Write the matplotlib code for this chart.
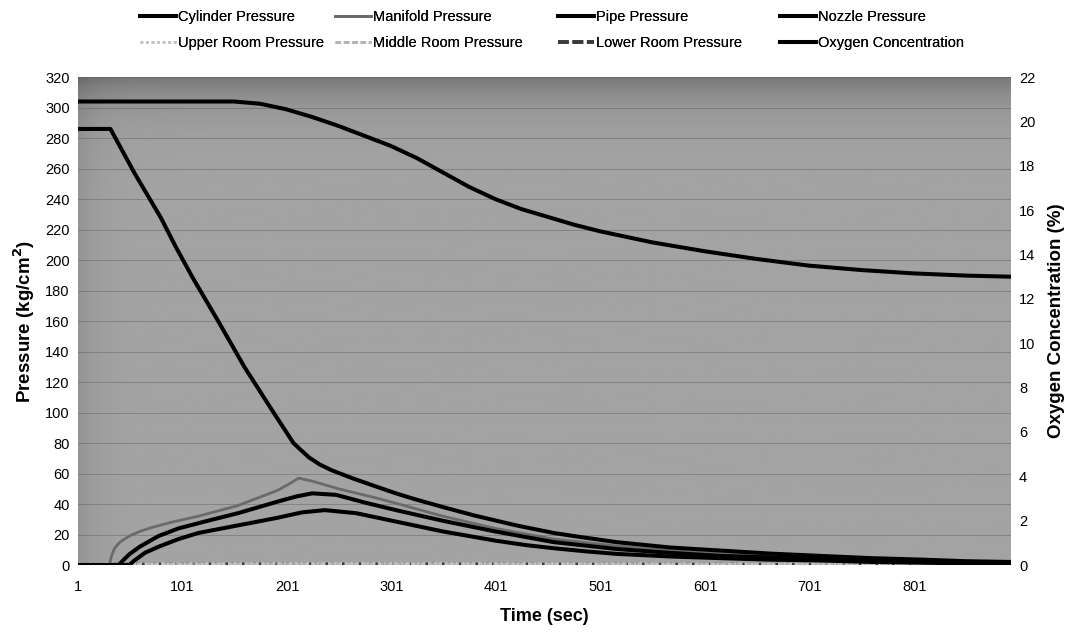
import numpy as np
import matplotlib
matplotlib.use('Agg')
import matplotlib.pyplot as plt
from matplotlib.lines import Line2D

plt.rcParams['font.family'] = ['Liberation Sans', 'DejaVu Sans']

# ---------------- data ----------------
time_ticks = [1, 101, 201, 301, 401, 501, 601, 701, 801]
t_end = 893

cyl_t = [1, 32, 55, 80, 95, 111, 135, 160, 188, 207, 214, 222, 232, 244, 265, 286, 305, 324, 350, 380, 420, 456, 475, 516, 567, 615, 663, 710, 760, 810, 850, 893]
cyl_p = [286, 286, 257, 228, 208, 188, 160, 130, 100, 80, 75.5, 70.5, 66, 62, 56.5, 51.5, 47, 43, 38, 32.5, 26, 21, 19, 15, 11.5, 9.5, 7.5, 6, 4.5, 3.5, 2.5, 2]

man_t = [1, 31, 33, 36, 41, 50, 60, 71, 90, 116, 154, 192, 205, 212, 225, 250, 286, 305, 350, 400, 456, 516, 567, 615, 663, 710, 760, 810, 850, 893]
man_p = [0, 0, 6, 11, 15, 19, 22, 24.5, 28, 32, 39, 49, 54, 57, 55, 50, 44, 40.5, 32, 24, 17, 12.5, 9.5, 7.5, 5.5, 4.5, 3.5, 2.5, 1.5, 1]

pipe_t = [1, 40, 44, 50, 60, 78, 97, 125, 154, 192, 210, 225, 248, 275, 305, 350, 400, 456, 516, 567, 615, 663, 710, 760, 810, 850, 893]
pipe_p = [0, 0, 3, 7, 12, 19, 24, 29, 34, 41.6, 45, 47, 46, 41, 36, 29, 22, 15, 10.5, 8, 6, 5, 4, 3, 2, 1.5, 1]

noz_t = [1, 50, 55, 65, 78, 97, 116, 154, 192, 215, 237, 267, 305, 350, 400, 430, 456, 486, 516, 567, 615, 663, 710, 760, 810, 850, 893]
noz_p = [0, 0, 3, 8, 12, 17, 21, 26, 31, 34.5, 36, 34, 28.5, 22, 16, 13, 11, 9, 7.3, 5.6, 4.5, 3.5, 3, 2, 1.5, 1, 0.8]

room_t = [1, 100, 200, 300, 400, 500, 600, 700, 800, 893]
upper_p = [0.6, 0.8, 1.0, 1.0, 0.9, 0.8, 0.7, 0.6, 0.6, 0.6]
middle_p = [0.4, 0.6, 0.8, 0.8, 0.7, 0.6, 0.5, 0.4, 0.4, 0.4]
lower_p = [0.2, 0.4, 0.5, 0.5, 0.4, 0.3, 0.3, 0.2, 0.2, 0.2]

oxy_t = [1, 150, 175, 200, 225, 250, 275, 300, 325, 350, 375, 400, 425, 450, 475, 500, 550, 600, 650, 700, 750, 800, 850, 893]
oxy_c = [20.9, 20.9, 20.8, 20.55, 20.2, 19.8, 19.35, 18.9, 18.35, 17.7, 17.05, 16.5, 16.05, 15.7, 15.35, 15.05, 14.55, 14.15, 13.8, 13.5, 13.3, 13.15, 13.05, 13.0]

labels = ['Cylinder Pressure', 'Manifold Pressure', 'Pipe Pressure', 'Nozzle Pressure',
          'Upper Room Pressure', 'Middle Room Pressure', 'Lower Room Pressure', 'Oxygen Concentration']

# ---------------- figure ----------------
fig = plt.figure(figsize=(10.72, 6.32), dpi=100)
ax = fig.add_axes([0.0728, 0.106, 0.870, 0.772])

# halftone-like grey background, darker along the top and left edges
gy = np.linspace(0, 1, 200)[:, None]
gx = np.linspace(0, 1, 400)[None, :]
shade = 0.64 - 0.17 * np.exp(-gy / 0.05) - 0.06 * np.exp(-gx / 0.02)
ax.imshow(shade, cmap='gray', vmin=0, vmax=1, aspect='auto',
          extent=[0, 1, 0, 1], origin='upper', transform=ax.transAxes, zorder=0)

ax.set_xlim(1, t_end)
ax.set_ylim(0, 320)
ax.set_yticks(np.arange(0, 321, 20))
ax.set_xticks(time_ticks)
ax.grid(axis='y', color='#5a5a5a', linewidth=0.6, alpha=0.5, zorder=1)

styles = {
    'cyl': dict(color='black', lw=2.9),
    'man': dict(color='#6a6a6a', lw=2.0),
    'pipe': dict(color='black', lw=2.9),
    'noz': dict(color='black', lw=2.9),
    'upper': dict(color='#c4c4c4', lw=2.0, ls=(0, (1, 1))),
    'middle': dict(color='#b4b4b4', lw=2.0, ls=(0, (2, 1))),
    'lower': dict(color='#3a3a3a', lw=2.6, ls=(0, (3, 1))),
    'oxy': dict(color='black', lw=2.9),
}

ax.plot(room_t, lower_p, zorder=3, **styles['lower'])
ax.plot(room_t, middle_p, zorder=3, **styles['middle'])
ax.plot(room_t, upper_p, zorder=3, **styles['upper'])
ax.plot(man_t, man_p, zorder=4, **styles['man'])
ax.plot(noz_t, noz_p, zorder=4, **styles['noz'])
ax.plot(pipe_t, pipe_p, zorder=4, **styles['pipe'])
ax.plot(cyl_t, cyl_p, zorder=5, **styles['cyl'])

ax2 = ax.twinx()
ax2.set_ylim(0, 22)
ax2.set_yticks(np.arange(0, 23, 2))
ax2.plot(oxy_t, oxy_c, zorder=5, **styles['oxy'])

for a in (ax, ax2):
    for s in a.spines.values():
        s.set_visible(False)
    a.tick_params(length=0, labelsize=10.5, pad=6)
ax.tick_params(axis='x', pad=11)

ax.set_xlabel('Time (sec)', fontsize=13, fontweight='bold', labelpad=10)
ax.set_ylabel('Pressure (kg/cm$^\\mathbf{2}$)', fontsize=13.5, fontweight='bold', labelpad=6)
ax2.set_ylabel('Oxygen Concentration (%)', fontsize=13.5, fontweight='bold', labelpad=9)

# legend: four columns placed individually
keys = ['cyl', 'man', 'pipe', 'noz', 'upper', 'middle', 'lower', 'oxy']
handles = [Line2D([], [], **styles[k]) for k in keys]
col_x = [140, 335, 558, 780]
for c in range(4):
    leg = fig.legend([handles[c], handles[c + 4]], [labels[c], labels[c + 4]],
                     loc='upper left', bbox_to_anchor=(col_x[c] / 1072, 1 - 10 / 632),
                     frameon=False, fontsize=10.5, handlelength=2.5, handletextpad=0.1,
                     borderpad=0, borderaxespad=0, labelspacing=0.85)
    fig.add_artist(leg)

fig.savefig('out.png', dpi=100)
